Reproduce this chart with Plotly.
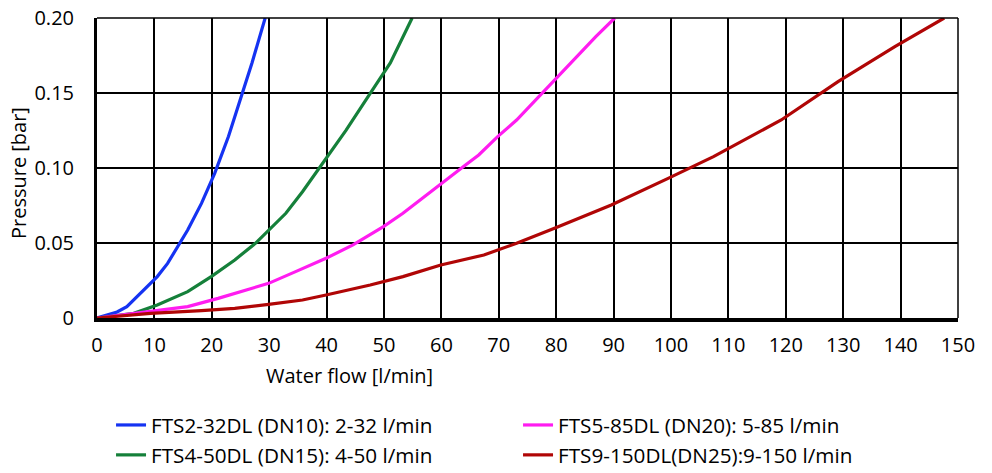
import plotly.graph_objects as go

# FTS2-32DL (DN10)
flow_dn10 = [0, 3.5, 5.2, 8.2, 10.5, 12.3, 14.1, 15.8, 18.2, 20.5, 22.9, 25.2, 27.0, 29.3]
pres_dn10 = [0, 0.004, 0.0076, 0.0187, 0.0276, 0.0364, 0.0476, 0.0587, 0.0764, 0.0964, 0.121, 0.1476, 0.17, 0.2]

# FTS4-50DL (DN15)
flow_dn15 = [0, 6.4, 10.5, 15.8, 19.9, 24.0, 27.6, 29.9, 32.9, 35.8, 39.3, 43.4, 47.6, 51.1, 54.9]
pres_dn15 = [0, 0.0031, 0.0087, 0.0176, 0.0276, 0.0387, 0.0498, 0.0587, 0.0698, 0.0842, 0.103, 0.1253, 0.1498, 0.17, 0.2]

# FTS5-85DL (DN20)
flow_dn20 = [0, 9.3, 15.8, 21.1, 25.8, 29.9, 34.6, 39.9, 44.6, 49.9, 53.3, 57.0, 59.9, 63.8, 66.5,
             69.8, 73.1, 76.4, 79.7, 83.6, 86.9, 90.2]
pres_dn20 = [0, 0.0042, 0.0076, 0.0131, 0.0187, 0.0231, 0.0309, 0.0398, 0.0487, 0.0609, 0.0698, 0.0809,
             0.0898, 0.1009, 0.1087, 0.1209, 0.132, 0.1453, 0.1587, 0.1742, 0.1876, 0.2]

# FTS9-150DL (DN25)
flow_dn25 = [0, 9.3, 18.2, 24.0, 29.9, 35.8, 39.9, 47.6, 53.3, 59.9, 67.4, 73.1, 79.7, 89.6, 99.5,
             107.4, 119.2, 129.1, 139.0, 147.6]
pres_dn25 = [0, 0.0031, 0.0049, 0.0064, 0.0091, 0.012, 0.0153, 0.022, 0.0276, 0.0353, 0.042, 0.0498,
             0.0598, 0.0753, 0.0931, 0.1076, 0.132, 0.1576, 0.1809, 0.2]

x_ticks = list(range(0, 151, 10))
y_ticks = [0, 0.05, 0.10, 0.15, 0.20]
y_labels = ["0", "0.05", "0.10", "0.15", "0.20"]

font = "Open Sans"
fsize = 20

fig = go.Figure()
series = [
    ("FTS2-32DL (DN10): 2-32 l/min", flow_dn10, pres_dn10, "#1533f2", 1),
    ("FTS4-50DL (DN15): 4-50 l/min", flow_dn15, pres_dn15, "#15803a", 3),
    ("FTS5-85DL (DN20): 5-85 l/min", flow_dn20, pres_dn20, "#ff1cf0", 2),
    ("FTS9-150DL(DN25):9-150 l/min", flow_dn25, pres_dn25, "#b00606", 4),
]
for name, xs, ys, col, rank in series:
    fig.add_trace(go.Scatter(x=xs, y=ys, mode="lines", name=name, legendrank=rank,
                             line=dict(color=col, width=3.2)))

fig.update_layout(
    width=992, height=473,
    margin=dict(l=97, r=34, t=18, b=155, autoexpand=False),
    paper_bgcolor="white", plot_bgcolor="white",
    font=dict(family=font, size=fsize, color="black"),
    showlegend=True,
    legend=dict(orientation="h", x=0.0163, xanchor="left", y=-0.29, yanchor="top",
                entrywidth=362, entrywidthmode="pixels", tracegroupgap=0,
                font=dict(family=font, size=20.7, color="black")),
)
fig.update_xaxes(range=[0, 150], tickvals=x_ticks, showgrid=True, gridcolor="black", gridwidth=1.5,
                 showline=True, linecolor="black", linewidth=4, zeroline=False, automargin=False,
                 ticks="", ticklabelstandoff=6, tickfont=dict(size=fsize), ticklabeloverflow="allow")
fig.update_yaxes(range=[0, 0.2], tickvals=y_ticks, ticktext=y_labels, showgrid=True, gridcolor="black",
                 gridwidth=1.5, showline=True, linecolor="black", linewidth=3, zeroline=False,
                 automargin=False, ticks="", ticklabelstandoff=16, tickfont=dict(size=fsize),
                 ticklabeloverflow="allow")

# top and right frame
fig.add_shape(type="line", xref="paper", yref="paper", x0=0, x1=1, y0=1, y1=1,
              line=dict(color="black", width=1.5))
fig.add_shape(type="line", xref="paper", yref="paper", x0=1, x1=1, y0=0, y1=1,
              line=dict(color="black", width=1.5))

fig.add_annotation(text="Water flow [l/min]", xref="paper", yref="paper", x=0.293, y=-0.193,
                   xanchor="center", yanchor="middle", showarrow=False, font=dict(size=fsize))
fig.add_annotation(text="Pressure [bar]", xref="paper", yref="paper", x=-0.0918, y=0.483,
                   xanchor="center", yanchor="middle", textangle=-90, showarrow=False,
                   font=dict(size=fsize))

# drop the page's default 8px body margin so the figure fills the window
fig.write_html("out.html", config={"displayModeBar": False},
               post_script="document.body.style.margin='0';")
